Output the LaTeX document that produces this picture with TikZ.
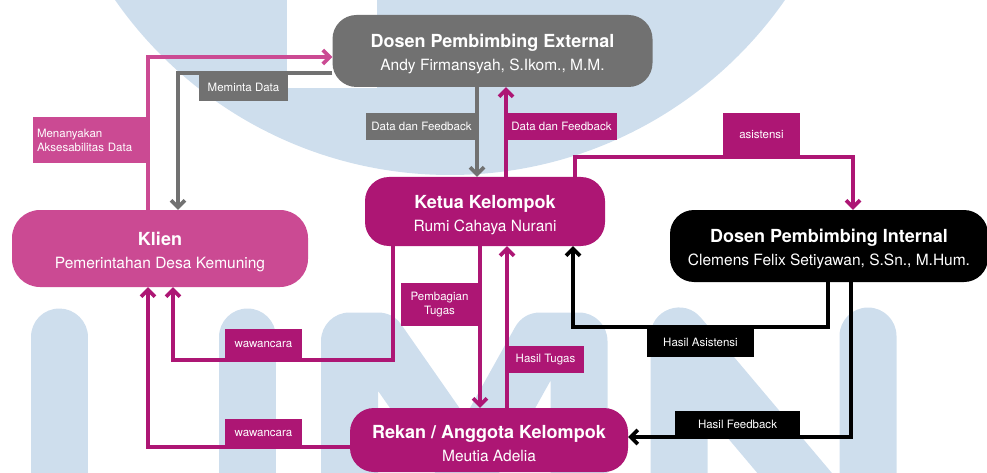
\documentclass[tikz,border=0pt]{standalone}
\usepackage{fontspec}
\setmainfont{TeX Gyre Heros}
\usetikzlibrary{arrows.meta}

\definecolor{extgray}{RGB}{113,113,113}
\definecolor{ketmag}{RGB}{173,22,116}
\definecolor{klienpink}{RGB}{203,74,147}
\definecolor{umnblue}{RGB}{206,222,237}

\tikzset{
  bigbox/.style={rounded corners=24pt, text=white, align=center, inner sep=0pt,
    font=\fontsize{15.5}{23}\selectfont},
  labbox/.style={text=white, align=center, inner sep=0pt,
    font=\fontsize{11.5}{14}\selectfont},
  conn/.style={line width=3.6pt, -{Straight Barb[length=7pt,width=14pt]}},
  umn/.style={umnblue, line width=57pt, line join=round, line cap=round}
}
\newcommand{\boxtitle}[1]{{\fontsize{18}{23}\selectfont\bfseries\rule{0pt}{19.5pt}#1}}

\begin{document}
\begin{tikzpicture}[x=1pt,y=-1pt]

\useasboundingbox (0,0) rectangle (987,473);
\clip (0,0) rectangle (987,473);

\fill[umnblue] (450,-233) circle[radius=408pt];
\fill[white] (287,-5) rectangle (377,88);
\draw[umn] (59,520) -- (59,337);
\draw[umn] (247.5,520) -- (247.5,337);
\draw[umn] (349.5,520) -- (349.5,341) -- (378,341) -- (468,470) -- (540,341) -- (579,341) -- (579,520);
\draw[umn] (679,520) -- (679,336) -- (868,560) -- (868,336);

\node[bigbox, fill=extgray, minimum width=320pt, minimum height=72pt] (ext) at (492.5,51)
  {\boxtitle{Dosen Pembimbing External}\\Andy Firmansyah, S.Ikom., M.M.};
\node[bigbox, fill=ketmag, minimum width=240pt, minimum height=69pt] (ketua) at (485,211.5)
  {\boxtitle{Ketua Kelompok}\\Rumi Cahaya Nurani};
\node[bigbox, rounded corners=28pt, fill=klienpink, minimum width=296pt, minimum height=77pt] (klien) at (160,248.5)
  {\boxtitle{Klien}\\Pemerintahan Desa Kemuning};
\node[bigbox, fill=black, minimum width=318pt, minimum height=72pt] (internal) at (829,246)
  {\boxtitle{Dosen Pembimbing Internal}\\Clemens Felix Setiyawan, S.Sn., M.Hum.};
\node[bigbox, fill=ketmag, minimum width=278pt, minimum height=64pt] (rekan) at (489,440)
  {\boxtitle{Rekan / Anggota Kelompok}\\Meutia Adelia};

\draw[conn, klienpink] (klien.north -| 148,0) |- (ext.west |- 0,57);
\draw[conn, extgray] (ext.west |- 0,73) -| (klien.north -| 178,0);
\draw[conn, extgray] (ext.south -| 477,0) -- (ketua.north -| 477,0);
\draw[conn, ketmag] (ketua.north -| 506,0) -- (ext.south -| 506,0);
\draw[conn, ketmag] (ketua.north -| 575,0) |- (853,157) -- (internal.north -| 853,0);
\draw[conn, black] (internal.south -| 828,0) |- (573,327) -- (ketua.south -| 573,0);
\draw[conn, black] (internal.south -| 851,0) |- (rekan.east |- 0,437);
\draw[conn, ketmag] (ketua.south -| 480,0) -- (rekan.north -| 480,0);
\draw[conn, ketmag] (rekan.north -| 507,0) -- (ketua.south -| 507,0);
\draw[conn, ketmag] (ketua.south -| 393,0) |- (173,360) -- (klien.south -| 173,0);
\draw[conn, ketmag] (rekan.west |- 0,447) -| (klien.south -| 148,0);

\node[labbox, fill=klienpink, align=left, text width=107pt, inner xsep=4pt, minimum height=46pt] (lmenanyakan) at (90.5,140)
  {Menanyakan\\Aksesabilitas Data};
\node[labbox, fill=extgray, minimum width=89pt, minimum height=28pt] (lmeminta) at (243.5,87) {Meminta Data};
\node[labbox, fill=extgray, minimum width=111pt, minimum height=27pt] (ldataa) at (421.5,126.5) {Data dan Feedback};
\node[labbox, fill=ketmag, minimum width=111pt, minimum height=27pt] (ldatab) at (561.5,126.5) {Data dan Feedback};
\node[labbox, fill=ketmag, minimum width=77pt, minimum height=44pt] (lasistensi) at (761.5,135) {asistensi};
\node[labbox, fill=ketmag, minimum width=77pt, minimum height=43pt] (lpembagian) at (439.5,304.5) {Pembagian\\Tugas};
\node[labbox, fill=ketmag, minimum width=77pt, minimum height=31pt] (lwawancaraa) at (263.5,344.5) {wawancara};
\node[labbox, fill=ketmag, minimum width=77pt, minimum height=28pt] (lwawancarab) at (263.5,433) {wawancara};
\node[labbox, fill=ketmag, minimum width=77pt, minimum height=27pt] (lhasiltugas) at (545.5,359.5) {Hasil Tugas};
\node[labbox, fill=black, minimum width=107pt, minimum height=30pt] (lhasilasistensi) at (700.5,342) {Hasil Asistensi};
\node[labbox, fill=black, minimum width=125pt, minimum height=26pt] (lhasilfeedback) at (737.5,424) {Hasil Feedback};

\end{tikzpicture}
\end{document}
